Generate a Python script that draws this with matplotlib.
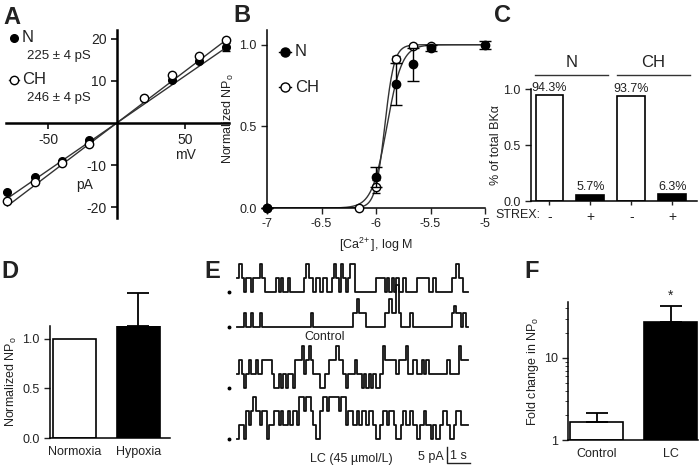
import numpy as np
import matplotlib
matplotlib.use("Agg")
import matplotlib.pyplot as plt
from matplotlib.lines import Line2D

plt.rcParams['font.family'] = ['Liberation Sans', 'DejaVu Sans']
plt.rcParams['font.size'] = 9
plt.rcParams['text.color'] = '#222222'
plt.rcParams['axes.labelcolor'] = '#222222'
plt.rcParams['xtick.color'] = '#222222'
plt.rcParams['ytick.color'] = '#222222'
plt.rcParams['mathtext.default'] = 'regular'
plt.rcParams['axes.unicode_minus'] = False

# ---- A: single-channel I-V ----
iv_mv = [-80, -60, -40, -20, 20, 40, 60, 80]
iv_n = [-16.4, -12.9, -9.0, -4.0, 6.0, 10.2, 14.8, 18.0]
iv_ch = [-18.6, -14.1, -9.6, -5.0, 6.0, 11.4, 15.8, 19.8]
iv_n_err = [0, 0, 0, 0, 0, 0, 0, 1.0]
cond_text = ["225 ± 4 pS", "246 ± 4 pS"]

# ---- B: Ca2+ dependence ----
ca_n = [-7.0, -6.0, -5.82, -5.66, -5.5, -5.0]
npo_n = [0.0, 0.19, 0.76, 0.88, 0.98, 1.0]
npo_n_err = [0.0, 0.06, 0.13, 0.10, 0.02, 0.025]
ca_ch = [-7.0, -6.16, -6.0, -5.82, -5.66, -5.5]
npo_ch = [0.0, 0.0, 0.13, 0.91, 0.99, 0.99]
npo_ch_err = [0.0, 0.0, 0.04, 0.02, 0.01, 0.01]
hill_n = (-5.90, 6.3)     # logEC50, nH
hill_ch = (-5.92, 10.0)

# ---- C: STREX fraction ----
strex_groups = ["N", "CH"]
strex_ticks = ["-", "+", "-", "+"]
strex_frac = [0.943, 0.057, 0.937, 0.063]

# ---- D: normoxia vs hypoxia ----
d_labels = ["Normoxia", "Hypoxia"]
d_vals = [1.0, 1.13]
d_err = [0.0, 0.33]

# ---- E: single-channel records, open channels per 0.1 s bin ----
trace_dt = 0.1
unit_pA = 4.4
ctrl_1 = [1, 2, 1, 0, 1, 1, 0, 1, 1, 1, 2, 1, 0, 0, 0, 0, 0, 1, 0, 1,
          0, 0, 1, 0, 0, 0, 0, 0, 0, 1, 2, 1, 1, 0, 1, 1, 0, 1, 1, 0,
          0, 1, 2, 1, 0, 2, 1, 0, 1, 2, 2, 0, 0, 0, 0, 0, 0, 0, 0, 0,
          1, 1, 1, 1, 0, 1, 0, 1, 0, 1, 0, 0, 1, 0, 0, 0, 0, 0, 1, 1,
          1, 1, 1, 0, 0, 1, 0, 0, 0, 0, 0, 0, 0, 1, 1, 2, 1, 1, 0, 0]
ctrl_2 = [0, 0, 0, 1, 0, 0, 1, 0, 0, 0, 1, 0, 0, 0, 0, 0, 0, 0, 0, 0,
          0, 0, 0, 0, 0, 0, 0, 0, 0, 0, 0, 0, 1, 0, 0, 0, 0, 0, 0, 0,
          0, 0, 0, 0, 0, 0, 0, 0, 0, 0, 1, 1, 2, 1, 1, 1, 0, 0, 0, 0,
          0, 0, 0, 0, 1, 1, 2, 1, 1, 3, 1, 0, 0, 0, 0, 1, 0, 0, 0, 0,
          0, 0, 0, 0, 0, 0, 0, 0, 0, 0, 0, 0, 0, 1, 1.5, 1, 1, 0, 1, 0]
lc_1 = [1, 2, 1, 0, 1, 2, 1, 1, 2, 1, 1, 2, 2, 2, 2, 1, 0, 0, 1, 0,
        1, 0, 1, 1, 0, 2, 2, 2, 3, 1, 2, 3, 2, 1, 1, 1, 0, 0, 1, 1,
        2, 2, 2, 3, 2, 2, 1, 0, 1, 1, 1, 2, 1, 1, 0, 1, 0, 1, 0, 1,
        0, 0, 1, 3, 2, 2, 2, 2, 2, 1, 2, 2, 2, 3, 1, 1, 2, 2, 1, 1,
        2, 1, 2, 1, 1, 1, 1, 1, 1, 1, 1, 2, 1, 1, 1, 1, 3, 2, 2, 2]
lc_2 = [0, 1, 1, 0, 2, 1, 2, 3, 2, 2, 1, 2, 2, 0, 1, 1, 2, 2, 1, 2,
        1, 1, 2, 1, 2, 2, 1, 3, 3, 2, 3, 3, 2, 1, 0, 0, 2, 3, 3, 2,
        3, 3, 3, 3, 2, 3, 3, 1, 2, 2, 1, 1, 2, 1, 2, 2, 1, 2, 2, 1,
        0, 0, 1, 2, 2, 1, 2, 2, 1, 0, 0, 1, 2, 1, 1, 2, 1, 1, 0, 1,
        1, 2, 1, 1, 0, 1, 0, 0, 1, 2, 2, 1, 0, 0, 1, 2, 2, 1, 1, 1]
traces = [ctrl_1, ctrl_2, lc_1, lc_2]

# ---- F: fold change ----
f_labels = ["Control", "LC"]
f_vals = [1.66, 27.5]
f_err = [0.5, 15.5]

W, H = 700, 469
fig = plt.figure(figsize=(W / 100, H / 100), dpi=100)


def px_axes(l, t, r, b):
    return fig.add_axes([l / W, 1 - b / H, (r - l) / W, (b - t) / H])


def fig_text(x, y, s, **kw):
    fig.text(x / W, 1 - y / H, s, **kw)


def box_style(ax, lw=1.1):
    for s in ['top', 'right']:
        ax.spines[s].set_visible(False)
    for s in ['left', 'bottom']:
        ax.spines[s].set_linewidth(lw)
    ax.tick_params(width=1, length=4)


# panel letters
for letter, (x, y) in zip("ABCDEF", [(12, 17), (242, 15), (503, 15),
                                     (10, 272), (212, 272), (532, 272)]):
    fig_text(x, y, letter, fontsize=17, fontweight='bold', ha='center', va='center')

# ---------- A ----------
axA = px_axes(6, 30, 229, 218)
axA.set_xlim(-81, 82)
axA.set_ylim(-22.6, 22.1)
for s in ['top', 'right']:
    axA.spines[s].set_visible(False)
for s in ['left', 'bottom']:
    axA.spines[s].set_position(('data', 0))
    axA.spines[s].set_linewidth(1.8)
axA.set_xticks([-50, 50])
axA.set_yticks([-20, -10, 10, 20])
axA.tick_params(width=1.3, length=4, labelsize=10)
v = np.array(iv_mv, float)
for cur in (iv_n, iv_ch):
    c = np.array(cur)
    g = np.sum(v * c) / np.sum(v * v)
    vv = np.array([v.min(), v.max()])
    axA.plot(vv, g * vv, color='#333333', lw=1.0, zorder=2)
axA.errorbar(iv_mv, iv_n, yerr=iv_n_err, fmt='o', color='black', ms=5.5,
             capsize=3, elinewidth=1, zorder=3, clip_on=False)
axA.plot(iv_mv, iv_ch, 'o', mfc='white', mec='black', ms=6, mew=1, zorder=4, clip_on=False)
axA.text(50, -7.6, "mV", ha='center', va='center', fontsize=10)
axA.text(-23.5, -14.8, "pA", ha='center', va='center', fontsize=10)
# legend
axA.add_line(Line2D([14 / W], [1 - 38 / H], transform=fig.transFigure, marker='o',
                    color='black', ms=5.5, ls=''))
fig_text(22, 38, "N", fontsize=12, va='center')
fig_text(27, 56, cond_text[0], fontsize=9.5, va='center')
axA.add_line(Line2D([9 / W, 19 / W], [1 - 80 / H, 1 - 80 / H], transform=fig.transFigure,
                    color='#333333', lw=1))
axA.add_line(Line2D([14 / W], [1 - 80 / H], transform=fig.transFigure, marker='o',
                    mfc='white', mec='black', ms=6, ls=''))
fig_text(22, 80, "CH", fontsize=12, va='center')
fig_text(27, 98, cond_text[1], fontsize=9.5, va='center')

# ---------- B ----------
axB = px_axes(267, 30, 485, 208)
box_style(axB)
axB.set_xlim(-7, -5)
axB.set_ylim(0, 1.09)
axB.set_xticks([-7, -6.5, -6, -5.5, -5])
axB.set_xticklabels(["-7", "-6.5", "-6", "-5.5", "-5"])
axB.set_yticks([0, 0.5, 1.0])
axB.set_yticklabels(["0.0", "0.5", "1.0"])
xc = np.linspace(-7, -5, 400)
for ec50, nh in [hill_n, hill_ch]:
    axB.plot(xc, 1 / (1 + 10 ** ((ec50 - xc) * nh)), color='#333333', lw=1.0, zorder=2)
axB.errorbar(ca_ch, npo_ch, yerr=npo_ch_err, fmt='o', mfc='white', mec='black', ecolor='black',
             ms=6, mew=1, capsize=3, elinewidth=1, zorder=3, clip_on=False)
axB.errorbar(ca_n, npo_n, yerr=npo_n_err, fmt='o', color='black', ms=6,
             capsize=4, elinewidth=1, capthick=1, zorder=4, clip_on=False)
axB.set_xlabel("[Ca$^{2\\!+}$], log M", labelpad=4)
axB.set_ylabel("Normalized NP$_{o}$", labelpad=2)
for yy, lab, face in [(52, "N", 'black'), (87, "CH", 'white')]:
    axB.add_line(Line2D([279 / W, 291 / W], [1 - yy / H] * 2, transform=fig.transFigure,
                        color='black', lw=1))
    axB.add_line(Line2D([285 / W], [1 - yy / H], transform=fig.transFigure, marker='o',
                        mfc=face, mec='black', ms=6.5, ls=''))
    fig_text(295, yy, lab, fontsize=12, va='center')

# ---------- C ----------
axC = px_axes(531, 89, 697, 201)
box_style(axC)
xpos = np.arange(len(strex_frac))
axC.bar(xpos, strex_frac, width=0.68, color=['white', 'black', 'white', 'black'],
        edgecolor='black', linewidth=1.2)
axC.set_xlim(-0.45, 3.6)
axC.set_ylim(0, 1.0)
axC.set_yticks([0, 0.5, 1.0])
axC.set_yticklabels(["0.0", "0.5", "1.0"])
axC.set_xticks(xpos)
axC.set_xticklabels(strex_ticks, fontsize=10)
axC.tick_params(axis='x', length=3)
axC.text(-0.22, -0.075, "STREX:", ha='right', va='top', fontsize=9,
         transform=axC.get_xaxis_transform())
for x, f in zip(xpos, strex_frac):
    axC.annotate(f"{f * 100:.1f}%", (x, f), xytext=(0, 1), textcoords='offset points',
                 ha='center', va='bottom', fontsize=9)
for g, name in enumerate(strex_groups):
    x0, x1 = xpos[2 * g] - 0.36, xpos[2 * g + 1] + 0.42
    axC.plot([x0, x1], [1.125, 1.125], color='#333333', lw=1, clip_on=False)
    axC.text((x0 + x1) / 2, 1.24, name, ha='center', va='center', fontsize=12, clip_on=False)
axC.set_ylabel("% of total BKα", labelpad=1)

# ---------- D ----------
axD = px_axes(50, 326, 170, 438)
box_style(axD)
axD.bar([0, 1], d_vals, width=0.68, color=['white', 'black'], edgecolor='black', linewidth=1.2)
axD.errorbar([1], [d_vals[1]], yerr=[[0], [d_err[1]]], fmt='none', ecolor='black',
             elinewidth=1.3, capsize=8, capthick=1.3, clip_on=False)
axD.set_xlim(-0.39, 1.5)
axD.set_ylim(0, 1.13)
axD.set_yticks([0, 0.5, 1.0])
axD.set_yticklabels(["0.0", "0.5", "1.0"])
axD.set_xticks([0, 1])
axD.set_xticklabels(d_labels)
axD.tick_params(axis='x', length=0, pad=6)
axD.set_ylabel("Normalized NP$_{o}$", labelpad=2)

# ---------- E ----------
axE = px_axes(220, 255, 480, 469)
axE.set_xlim(-0.74, 10.52)
axE.set_ylim(-55.3, 11.6)
axE.axis('off')
offsets = [0.0, -10.9, -30.0, -46.0]
for tr, off in zip(traces, offsets):
    lv = np.array(tr, float)
    t = np.arange(len(lv) + 1) * trace_dt
    y = np.append(lv, lv[-1]) * unit_pA + off
    axE.step(t, y, where='post', color='#111111', lw=1.3)
    axE.plot([-0.35], [off], 'o', color='black', ms=1.8)
axE.text(3.8, -14.1, "Control", ha='center', va='center', fontsize=9)
axE.text(4.95, -52.2, "LC (45 µmol/L)", ha='center', va='center', fontsize=9)
axE.plot([9.1, 9.1, 10.1], [-48.4, -53.4, -53.4], color='#222222', lw=1)
axE.text(8.95, -51.5, "5 pA", ha='right', va='center', fontsize=9)
axE.text(9.6, -51.3, "1 s", ha='center', va='center', fontsize=9)

# ---------- F ----------
axF = px_axes(568, 302, 698, 440)
box_style(axF)
axF.set_yscale('log')
axF.bar([0, 1], np.array(f_vals) - 1, bottom=1, width=0.72, color=['white', 'black'],
        edgecolor='black', linewidth=1.2)
axF.errorbar([0, 1], f_vals, yerr=[[0, 0], f_err], fmt='none', ecolor='black',
             elinewidth=1.3, capsize=8, capthick=1.3, clip_on=False)
axF.set_xlim(-0.39, 1.37)
axF.set_ylim(1, 48)
axF.set_yticks([1, 10])
axF.set_yticklabels(["1", "10"])
axF.set_xticks([0, 1])
axF.set_xticklabels(f_labels)
axF.tick_params(axis='x', length=0, pad=6)
axF.tick_params(axis='y', which='minor', length=2.5)
axF.annotate("*", (1, f_vals[1] + f_err[1]), xytext=(0, 2), textcoords='offset points',
             ha='center', va='bottom', fontsize=10)
axF.set_ylabel("Fold change in NP$_{o}$", labelpad=2)

fig.savefig("out.png", dpi=100)
